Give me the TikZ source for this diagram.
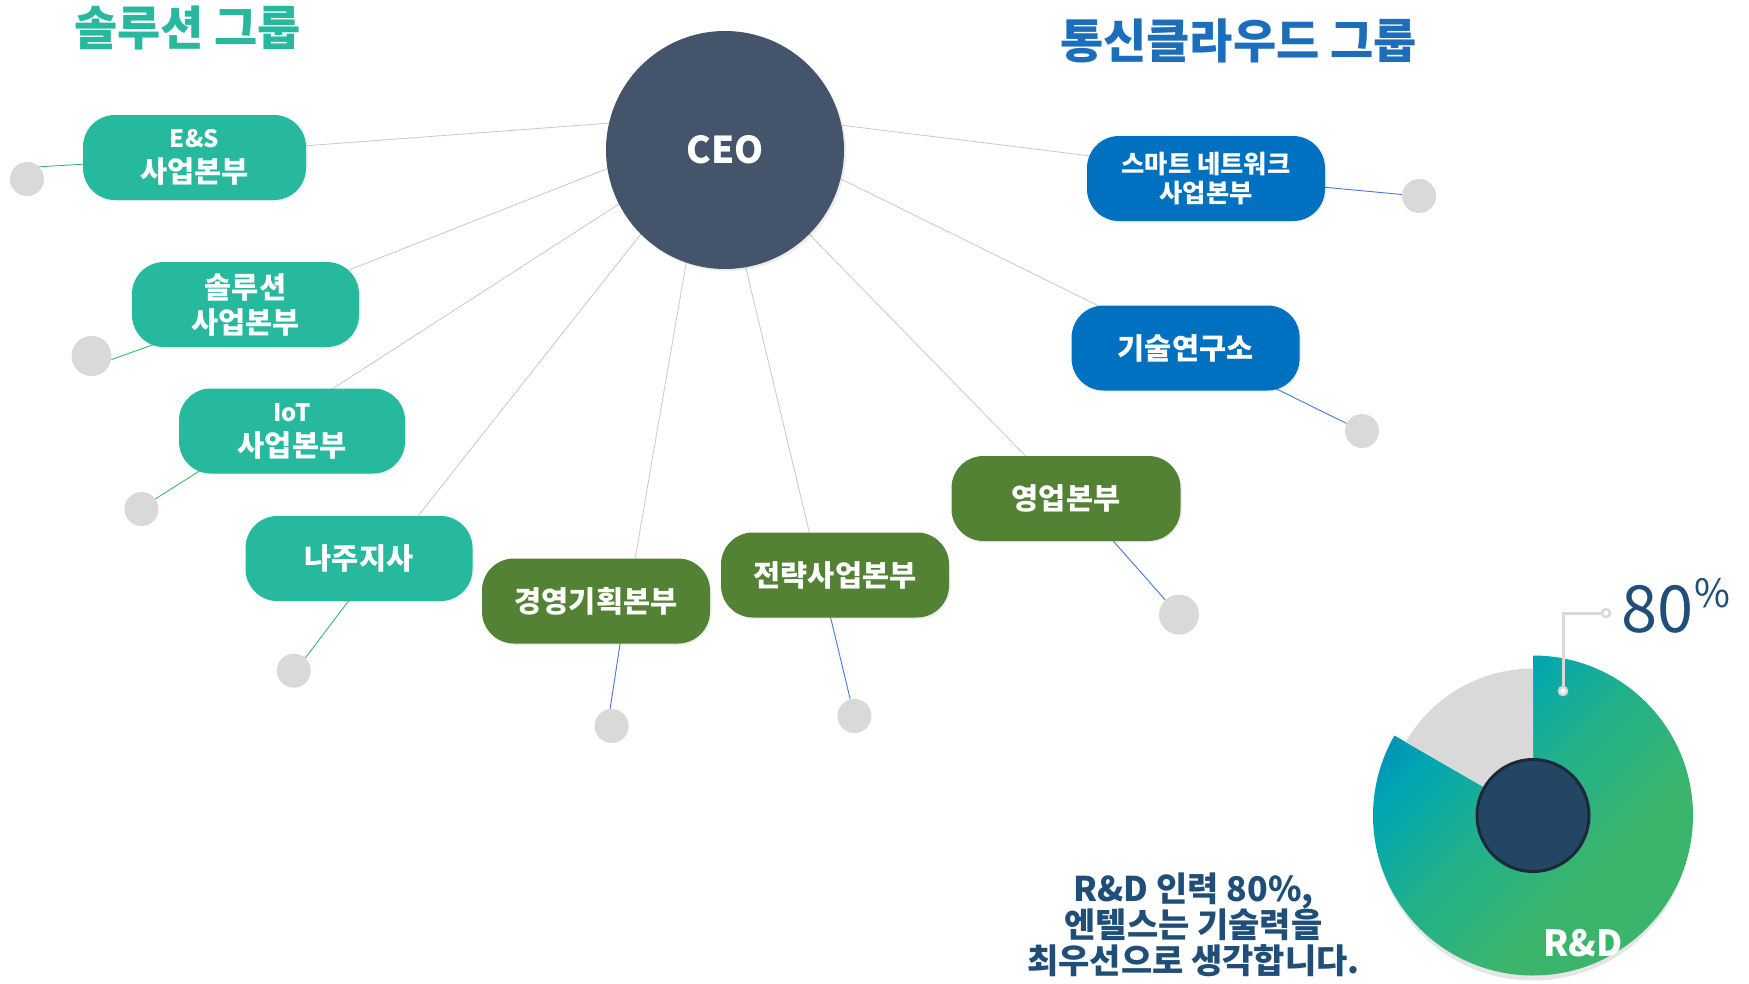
\documentclass[tikz,border=0pt]{standalone}
\usepackage{fontspec}
\setmainfont{Noto Sans CJK KR}
\usetikzlibrary{shadows,backgrounds,calc}
\pgfdeclarelayer{canvasbg}
\pgfsetlayers{canvasbg,background,main}
\definecolor{teal1}{RGB}{38,185,158}
\definecolor{dgreen}{RGB}{84,130,53}
\definecolor{blue1}{RGB}{0,112,192}
\definecolor{ceoc}{RGB}{68,84,106}
\definecolor{dotc}{RGB}{217,217,217}
\definecolor{linec}{RGB}{200,200,200}
\definecolor{glc}{RGB}{60,185,110}
\definecolor{blc}{RGB}{70,120,220}
\definecolor{navy}{RGB}{31,78,121}
\definecolor{titleblue}{RGB}{28,110,186}
\definecolor{donutin}{RGB}{35,70,100}
\definecolor{donutedge}{RGB}{28,40,58}
\definecolor{gblue}{RGB}{0,122,185}
\definecolor{gteal}{RGB}{0,166,180}
\definecolor{gmid}{RGB}{32,176,140}
\definecolor{ggreen}{RGB}{60,181,108}
\pgfdeclareverticalshading{rdshade}{100bp}{color(0bp)=(ggreen); color(36bp)=(ggreen); color(54bp)=(gmid); color(68bp)=(gteal); color(82bp)=(gblue); color(100bp)=(gblue)}
\begin{document}
\begin{tikzpicture}[x=1pt,y=-1pt,
  pill/.style={rounded corners=32pt, text=white, font=\bfseries\fontsize{29.5}{35}\selectfont, align=center, minimum height=85pt, inner sep=0pt, drop shadow={opacity=0.12,shadow xshift=1.5pt,shadow yshift=-1.5pt}},
  tpill/.style={pill, fill=teal1},
  gpill/.style={pill, fill=dgreen},
  bpill/.style={pill, fill=blue1},
  dotn/.style={circle, fill=dotc, inner sep=0pt, minimum size=34pt},
  bigdot/.style={dotn, minimum size=40pt},
  ceoline/.style={draw=linec, line width=0.8pt},
  gconn/.style={draw=glc, line width=0.9pt},
  bconn/.style={draw=blc, line width=0.9pt},
  titletext/.style={font=\bfseries\fontsize{47}{54}\selectfont, anchor=base, inner sep=0pt},
  msgtext/.style={font=\bfseries\fontsize{34}{36}\selectfont, text=navy, anchor=base, inner sep=0pt},
  callout/.style={circle, draw=dotc, fill=white, line width=2.5pt, minimum size=8pt, inner sep=0pt}]
\begin{pgfonlayer}{canvasbg}
\path[use as bounding box, fill=white] (0,0) rectangle (1749,983);
\end{pgfonlayer}

% titles
\node[titletext, text=teal1] (t1) at (187.5,45) {솔루션 그룹};
\node[titletext, text=titleblue] (t2) at (1238.5,58) {통신클라우드 그룹};

% CEO
\node[circle, fill=ceoc, minimum size=238pt, inner sep=0pt, text=white, font=\bfseries\fontsize{37}{37}\selectfont, drop shadow={opacity=0.15,shadow xshift=2pt,shadow yshift=-2pt}] (ceo) at (725,150) {CEO};

% pills
\node[tpill, minimum width=223pt] (es) at (194.5,157.5) {{\fontsize{24}{35}\selectfont E\&S}\\사업본부};
\node[tpill, minimum width=227pt] (sol) at (245.5,304.5) {솔루션\\사업본부};
\node[tpill, minimum width=226pt] (iot) at (292,431) {{\fontsize{24}{35}\selectfont IoT}\\사업본부};
\node[tpill, minimum width=227pt] (naju) at (359,558.5) {나주지사};
\node[gpill, minimum width=228pt] (plan) at (596,601) {경영기획본부};
\node[gpill, minimum width=228pt] (strat) at (835,575) {전략사업본부};
\node[gpill, minimum width=229pt] (sales) at (1066,498.5) {영업본부};
\node[bpill, minimum width=228pt] (lab) at (1185.6,348) {기술연구소};
\node[bpill, minimum width=238pt, font=\bfseries\fontsize{25.3}{29}\selectfont] (smart) at (1206,178.5) {스마트 네트워크\\사업본부};

% dots
\node[dotn] (esdot) at (27,179) {};
\node[bigdot] (soldot) at (91.5,356) {};
\node[dotn] (iotdot) at (141.5,509) {};
\node[dotn] (najudot) at (293.8,670.7) {};
\node[dotn] (plandot) at (611.6,726) {};
\node[dotn] (stratdot) at (854.4,716) {};
\node[bigdot] (salesdot) at (1179,614.6) {};
\node[dotn] (smartdot) at (1419,196) {};
\node[dotn] (labdot) at (1362,431) {};

\begin{scope}[on background layer]
% CEO connectors
\draw[ceoline] ($(es.center)+(108,-11.5)$) -- (ceo.167.7);
\draw[ceoline] ($(sol.center)+(97,-32)$) -- (ceo.189);
\draw[ceoline] ($(iot.center)+(37,-40)$) -- (ceo.207.6);
\draw[ceoline] ($(naju.center)+(57,-40)$) -- (ceo.225);
\draw[ceoline] ($(plan.center)+(38.7,-40)$) -- (ceo.251.4);
\draw[ceoline] ($(strat.center)+(-25,-40)$) -- (ceo.280);
\draw[ceoline] ($(sales.center)+(-38,-40)$) -- (ceo.315.7);
\draw[ceoline] ($(lab.center)+(-82.6,-40)$) -- (ceo.346.5);
\draw[ceoline] ($(smart.center)+(-115,-22.5)$) -- (ceo.12.7);
% dot connectors
\draw[gconn] (esdot.45) -- ($(es.center)+(-108,6.5)$);
\draw[gconn] (soldot.-10) -- ($(sol.center)+(-87.5,38.5)$);
\draw[gconn] (iotdot.36) -- ($(iot.center)+(-91,39)$);
\draw[gconn] (najudot.48) -- ($(naju.center)+(-8.6,40)$);
\draw[bconn] (plandot.95) -- ($(plan.center)+(24.5,40)$);
\draw[bconn] (stratdot.104) -- ($(strat.center)+(-5,40)$);
\draw[bconn] (salesdot.133) -- ($(sales.center)+(45,40)$);
\draw[bconn] (smartdot.175) -- ($(smart.center)+(116,8.5)$);
\draw[bconn] (labdot.154) -- ($(lab.center)+(89,40)$);
\end{scope}

% donut chart
\coordinate (dc) at (1533,815.5);
\fill[black,opacity=0.10] ($(dc)+(0,7)$) -- +(90:158pt) arc[start angle=90, end angle=-210, radius=158pt] -- cycle;
\shade[shading=rdshade, shading angle=45] (dc) -- +(90:160pt) arc[start angle=90, end angle=-210, radius=160pt] -- cycle;
\fill[dotc] (dc) -- +(90:147pt) arc[start angle=90, end angle=150, radius=147pt] -- cycle;
\node[circle, fill=donutin, draw=donutedge, line width=3pt, minimum size=112pt, inner sep=0pt] (core) at (dc) {};
\node[font=\bfseries\fontsize{36}{36}\selectfont, text=white] (rd) at (1583,943) {R\&D};

% callout
\node[callout] (c1) at (1563,691) {};
\node[callout] (c2) at (1606,613) {};
\draw[dotc, line width=3pt] (c1) |- (c2);
\node[font=\fontsize{65}{65}\selectfont, text=navy, anchor=base west, inner sep=0pt] (pct) at (1621,632) {80};
\node[font=\fontsize{39}{39}\selectfont, text=navy, anchor=base west, inner sep=0pt] (pctsign) at (1694,607) {\%};

% message
\node[msgtext] (m1) at (1193.5,901) {R\&D 인력 80\%,};
\node[msgtext] (m2) at (1193.5,937) {엔텔스는 기술력을};
\node[msgtext] (m3) at (1193.5,973) {최우선으로 생각합니다.};
\end{tikzpicture}
\end{document}
